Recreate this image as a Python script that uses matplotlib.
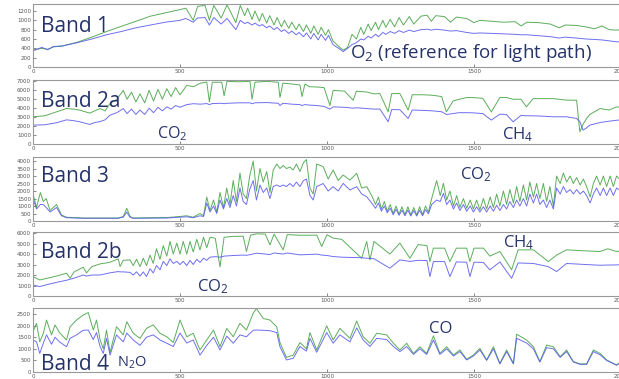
import numpy as np
import matplotlib
matplotlib.use("Agg")
import matplotlib.pyplot as plt

# Spectra (x = spectral pixel, y = signal)
# --------------------------------------------------------------
band1_x = [0, 30, 50, 70, 100, 150, 200, 250, 300, 350, 400, 450, 500, 520, 545, 560, 585, 600, 615, 640,
           660, 690, 705, 720, 730, 745, 755, 770, 780, 795, 805, 820, 830, 845, 855, 870, 880, 895, 905,
           920, 930, 945, 955, 970, 980, 995, 1005, 1020, 1040, 1055, 1070, 1085, 1100, 1115, 1125, 1140,
           1150, 1165, 1175, 1190, 1200, 1215, 1230, 1245, 1260, 1280, 1295, 1320, 1340, 1355, 1370, 1400,
           1420, 1440, 1475, 1500, 1520, 1560, 1600, 1640, 1660, 1680, 1720, 1760, 1790, 1810, 1850, 1880,
           1910, 1935, 1960, 1985, 2000]
band1_green = [360, 400, 380, 430, 450, 530, 640, 760, 870, 980, 1090, 1160, 1230, 1260, 1000, 1300, 1320, 1000,
               1320, 1050, 1330, 950, 1320, 1100, 1260, 1020, 1200, 980, 1150, 940, 1100, 900, 1060, 860, 1000,
               830, 960, 800, 920, 760, 900, 720, 880, 700, 850, 680, 800, 560, 440, 360, 420, 700, 600, 850,
               700, 920, 780, 960, 800, 1000, 850, 1020, 860, 1060, 900, 1080, 920, 1090, 1110, 980, 1100, 1080,
               960, 1070, 1040, 950, 1000, 980, 960, 970, 880, 960, 950, 920, 840, 900, 890, 860, 820, 880,
               800, 790, 800]
band1_blue = [350, 420, 370, 440, 450, 520, 600, 690, 760, 840, 900, 960, 1000, 1040, 960, 1050, 1060, 900,
              1060, 920, 1040, 800, 1000, 930, 960, 900, 940, 880, 910, 840, 880, 800, 850, 760, 800, 720, 770,
              690, 740, 650, 730, 600, 720, 580, 700, 570, 680, 480, 400, 330, 400, 480, 520, 600, 580, 660,
              620, 700, 650, 740, 700, 760, 720, 780, 740, 790, 760, 800, 810, 790, 810, 790, 770, 780, 740,
              720, 730, 720, 710, 700, 690, 690, 670, 650, 620, 640, 620, 600, 590, 580, 560, 540, 540]

band2a_x = [0, 40, 80, 114, 140, 159, 193, 210, 228, 245, 262, 285, 307, 320, 335, 350, 364, 380, 395, 410,
            425, 440, 455, 470, 485, 500, 523, 545, 570, 591, 600, 610, 642, 650, 660, 700, 738, 745, 755,
            794, 834, 840, 850, 880, 908, 915, 925, 940, 964, 990, 1010, 1021, 1060, 1089, 1100, 1135, 1160,
            1180, 1208, 1220, 1248, 1276, 1290, 1330, 1361, 1390, 1406, 1429, 1450, 1475, 1497, 1530, 1559,
            1588, 1610, 1633, 1660, 1678, 1701, 1740, 1769, 1815, 1849, 1860, 1871, 1883, 1894, 1929, 1960,
            1985, 2000]
band2a_green = [3040, 3150, 3590, 3960, 3900, 3780, 3450, 3700, 3960, 3700, 4520, 5000, 6000, 5000, 5800, 4700,
                5600, 4600, 6000, 4800, 6100, 5000, 6180, 5300, 6300, 5500, 6550, 6400, 6800, 6920, 4700, 6900,
                6900, 5400, 7000, 6950, 7000, 5000, 6900, 7000, 6900, 5200, 6800, 6700, 6600, 5300, 6700, 6400,
                6370, 6300, 4300, 6000, 5900, 4890, 5900, 5810, 5600, 5630, 3590, 5630, 5630, 3780, 5500, 5500,
                5440, 5300, 3590, 4810, 5000, 5190, 5190, 5100, 3590, 5190, 5190, 5000, 5000, 4150, 5070, 5070,
                5070, 4900, 4890, 1370, 2200, 2850, 3300, 3960, 3800, 4150, 4100]
band2a_blue = [2110, 2150, 2370, 2700, 2600, 2480, 2190, 2400, 2500, 2700, 3220, 3500, 3960, 3400, 3900, 3300,
               3800, 3300, 4000, 3500, 4100, 3700, 4150, 3900, 4300, 4100, 4400, 4500, 4450, 4520, 4400, 4520,
               4550, 4500, 4550, 4600, 4600, 4500, 4600, 4630, 4550, 4300, 4550, 4450, 4400, 4300, 4400, 4350,
               4300, 4200, 3900, 4150, 4100, 4000, 4050, 3960, 3900, 3900, 2480, 3850, 3830, 2850, 3800, 3750,
               3700, 3600, 3300, 3400, 3500, 3500, 3480, 3400, 2670, 3330, 3300, 2480, 3200, 3150, 3150, 3100,
               3040, 3040, 2850, 2500, 1550, 1800, 2110, 2400, 2550, 2650, 2700]

band3_x = [0, 12, 25, 35, 45, 58, 80, 97, 114, 171, 228, 290, 307, 319, 330, 341, 398, 455, 500, 523, 545,
           568, 580, 591, 602, 614, 625, 636, 648, 659, 670, 681, 692, 704, 715, 726, 737, 749, 760, 772, 783,
           795, 806, 817, 829, 840, 851, 862, 874, 885, 896, 908, 920, 930, 942, 953, 965, 987, 1004, 1021,
           1038, 1055, 1078, 1101, 1118, 1135, 1152,
           1165, 1175, 1185, 1195, 1205, 1215, 1225, 1235, 1245, 1255, 1265, 1275, 1285, 1295, 1305, 1315,
           1325, 1335, 1345, 1356, 1373, 1385, 1396, 1407, 1418, 1430, 1441, 1452, 1464, 1475, 1487, 1498,
           1509, 1520, 1532, 1543, 1555, 1566, 1577, 1588, 1600, 1611, 1622, 1634, 1645, 1656, 1668, 1679,
           1690, 1702, 1713, 1724, 1736, 1747, 1758, 1770, 1781, 1793, 1804, 1815, 1827, 1838, 1849, 1861,
           1872, 1883, 1895, 1906, 1917, 1929, 1940, 1951, 1963, 1974, 1985, 2000]
band3_green = [1800, 900, 1900, 1300, 1500, 700, 1100, 400, 250, 200, 200, 200, 300, 850, 300, 200, 220, 230,
               300, 350, 250, 500, 350, 1600, 700, 1400, 600, 1900, 900, 2200, 1100, 2700, 1300, 3200, 1800,
               1500, 3000, 4000, 2000, 3500, 2600, 3300, 1900, 3400, 3800, 3500, 3700, 3500, 3600, 3400, 3800,
               3300, 3900, 4100, 2200, 1800, 3800, 3630, 2800, 3400, 2700, 3070, 2730, 3180, 2200, 2290, 1700,
               1100, 1600, 800, 1300, 650, 1100, 500, 1000, 450, 950, 420, 950, 400, 900, 400, 950,
               420, 1000, 600, 1500, 2700, 1700, 2510, 1400, 2000, 1000, 1700, 900, 1500, 850, 1400, 800,
               1400, 750, 1500, 800, 1600, 900, 1800, 1000, 2000, 1100, 2100, 1200, 2300, 1300, 2400, 1400,
               2600, 1600, 2500, 1500, 2500, 1300, 2300, 1000, 3000, 2500, 3200, 2600, 3000, 2500, 2900, 2400,
               2800, 2300, 1600, 2500, 3000, 2400, 3000, 2300, 3000, 2300, 3000, 2700]
band3_blue = [1500, 800, 1100, 1100, 900, 600, 900, 350, 220, 180, 180, 180, 260, 600, 250, 180, 190, 200,
              250, 280, 220, 350, 300, 1200, 600, 1000, 500, 1400, 800, 1500, 900, 1700, 1000, 2200, 1300,
              1100, 2100, 2700, 1400, 2400, 1900, 2200, 1500, 2300, 2400, 2300, 2400, 2300, 2500, 2300, 2600,
              2300, 2700, 2800, 1700, 1400, 2300, 2500, 2000, 2290, 2000, 2510, 2070, 2290, 1800, 1620, 1200,
              850, 1200, 650, 1000, 550, 850, 420, 780, 380, 720, 350, 720, 330, 700, 330, 720,
              350, 760, 480, 1100, 1400, 1300, 1850, 1100, 1400, 800, 1200, 700, 1100, 650, 1000, 600,
              950, 600, 950, 600, 1000, 650, 1050, 700, 1100, 800, 1300, 900, 1400, 1000, 1500, 1000,
              1800, 1200, 1800, 1100, 1400, 900, 1400, 800, 2200, 1800, 2300, 1900, 2100, 1800, 2100, 1800,
              2000, 1700, 1200, 1800, 2200, 1700, 2200, 1700, 2200, 1700, 2200, 2000]

band2b_x = [0, 23, 50, 80, 114, 126, 140, 171, 182, 200, 228, 260, 290, 296, 307, 330, 341, 352, 364, 375,
            386, 398, 409, 420, 432, 443, 455, 466, 477, 489, 500, 511, 523, 534, 545, 557, 568, 580, 591, 602,
            620, 636, 650, 681, 715, 726, 740, 760, 790, 806, 820, 851, 865, 908, 965, 982, 1000, 1021, 1050,
            1118, 1135, 1146, 1160, 1214, 1248, 1282, 1310, 1340, 1350, 1362, 1400, 1418, 1440, 1475, 1486,
            1500, 1532, 1554, 1588, 1628, 1650, 1702, 1753, 1781, 1815, 1880, 1929, 1955, 1985, 2000]
band2b_green = [1850, 1530, 1700, 1900, 2170, 1700, 2300, 2740, 2200, 2800, 3060, 3200, 3540, 2810, 3400, 3440,
                2900, 3500, 2800, 3600, 2900, 3900, 3100, 4500, 3500, 4800, 3800, 5200, 4000, 5040, 4000, 5200,
                4000, 5200, 4200, 5400, 4400, 5600, 4600, 5600, 5500, 2770, 5600, 5680, 5700, 4240, 5800, 5920,
                5900, 4880, 5900, 4400, 5850, 5790, 5800, 4720, 5840, 5520, 5400, 3600, 5200, 3440, 5200, 4000,
                5040, 3600, 4900, 4800, 3280, 4560, 4560, 3280, 4560, 4560, 3280, 4560, 4560, 3800, 4240, 2500,
                4400, 4400, 3280, 3900, 4400, 4300, 4240, 4500, 4240, 4300]
band2b_blue = [1050, 900, 1100, 1300, 1500, 1600, 1700, 2000, 1900, 2000, 2000, 2200, 2330, 2300, 2300, 2250,
               2000, 2300, 1900, 2300, 1850, 2600, 2200, 2900, 2500, 3300, 2900, 3540, 3100, 3300, 3000, 3300,
               2900, 3400, 3000, 3500, 3200, 3600, 3400, 3700, 3750, 3700, 3800, 3860, 3900, 3880, 3950, 4080,
               4000, 3950, 4100, 4000, 4100, 3920, 3990, 3900, 3860, 3760, 3700, 3650, 3600, 3580, 3550, 2650,
               3440, 3300, 3400, 3380, 1850, 3280, 3280, 1850, 3250, 3220, 1850, 3220, 3200, 2490, 3250, 1690,
               3150, 3100, 2800, 2330, 3100, 3000, 2930, 2950, 2960, 3000]

band4_x = [0, 12, 23, 35, 46, 63, 75, 90, 114, 126, 148, 171, 188, 205, 216, 228, 239, 250, 262, 284, 307,
           319, 341, 364, 386, 409, 432, 455, 477, 500, 523, 545, 568, 591, 614, 636, 659, 681, 704, 726, 749,
           760, 783, 806, 829, 840, 862, 885, 908, 930, 942, 965, 999, 1021, 1044, 1078, 1101, 1123, 1146,
           1169, 1203, 1226, 1248, 1271, 1294, 1316, 1339, 1362, 1384, 1407, 1430, 1452, 1475, 1498, 1520,
           1543, 1566, 1588, 1611, 1634, 1645, 1679, 1702, 1724, 1747, 1770, 1793, 1815, 1838, 1861, 1883,
           1906, 1929, 1951, 1985, 2000]
band4_green = [1740, 2100, 1300, 1660, 2240, 1600, 2030, 1700, 1380, 1950, 2240, 2460, 2560, 1810, 2240, 1400,
               1000, 1810, 840, 1950, 1600, 2170, 1670, 1450, 1880, 2030, 1670, 1520, 1270, 2240, 1520, 1670,
               950, 1380, 1810, 1090, 1880, 1520, 2100, 1810, 2530, 2740, 2310, 2240, 1950, 1270, 630, 730,
               1270, 1000, 1700, 950, 1990, 1380, 1880, 1450, 2200, 1520, 1240, 1670, 1600, 1240, 950, 1240,
               800, 1090, 800, 1560, 800, 1090, 730, 950, 550, 730, 1020, 520, 1090, 370, 950, 370, 1630, 1380,
               1090, 450, 1160, 1090, 660, 950, 450, 350, 350, 950, 800, 520, 300, 450]
band4_blue = [1380, 1300, 800, 1240, 1600, 1200, 1500, 1300, 1090, 1450, 1600, 1800, 1810, 1400, 1700, 1100,
              800, 1450, 730, 1600, 1300, 1680, 1380, 1150, 1500, 1600, 1380, 1240, 1100, 1680, 1250, 1380,
              730, 1150, 1500, 950, 1550, 1240, 1600, 1520, 1800, 1810, 1800, 1780, 1700, 1090, 520, 590, 1100,
              900, 1450, 850, 1700, 1240, 1600, 1300, 1900, 1380, 1100, 1450, 1400, 1100, 880, 1100, 760, 1000,
              760, 1380, 760, 1000, 690, 880, 520, 690, 950, 500, 1000, 350, 880, 350, 1450, 1250, 1000, 430,
              1050, 1000, 630, 880, 430, 330, 330, 880, 740, 500, 290, 420]

x_ticks = [0, 500, 1000, 1500, 2000]

# name, x, green, blue, y-limit, y-ticks
panels = [
    ("Band 1", band1_x, band1_green, band1_blue, 1350, np.arange(0, 1201, 200)),
    ("Band 2a", band2a_x, band2a_green, band2a_blue, 7150, np.arange(0, 7001, 1000)),
    ("Band 3", band3_x, band3_green, band3_blue, 4270, np.arange(0, 4001, 500)),
    ("Band 2b", band2b_x, band2b_green, band2b_blue, 6100, np.arange(0, 6001, 1000)),
    ("Band 4", band4_x, band4_green, band4_blue, 2760, np.arange(0, 2501, 500)),
]

# axes top / bottom in pixels of the 619x379 picture
panel_px = [(4, 67), (80, 144), (157, 221), (232, 296), (308, 372)]
W, H = 619, 379

plt.rcParams['mathtext.default'] = 'regular'
fig = plt.figure(figsize=(W / 100, H / 100), dpi=100)
navy = '#26336b'

for (name, xs, g, b, ytop, yt), (top, bot) in zip(panels, panel_px):
    ax = fig.add_axes([33 / W, 1 - bot / H, 588 / W, (bot - top) / H])
    ax.plot(xs, g, color='#3f9f3f', lw=0.7, alpha=0.85)
    ax.plot(xs, b, color='#5555ee', lw=0.7, alpha=0.85)
    ax.set_xlim(0, 2000)
    ax.set_ylim(0, ytop)
    ax.set_xticks(x_ticks)
    ax.set_yticks(yt)
    ax.tick_params(direction='in', length=2, width=0.5, labelsize=4, colors='#555555', pad=1.5)
    for s in ax.spines.values():
        s.set_color('#999999')
        s.set_linewidth(0.8)

# Band names and molecule labels, (text, x px, baseline y px, size)
labels = [
    ("Band 1", 41, 32, 15), ("Band 2a", 41, 107, 15), ("Band 3", 41, 182, 15),
    ("Band 2b", 41, 258, 15), ("Band 4", 41, 370, 15),
    ("O$_2$ (reference for light path)", 350, 58, 13.5),
    ("CO$_2$", 157, 138, 11.5), ("CH$_4$", 502, 139, 12),
    ("CO$_2$", 460, 179, 12), ("CO$_2$", 197, 291, 12), ("CH$_4$", 503, 247, 12),
    ("N$_2$O", 117, 367, 10.5), ("CO", 429, 333, 12),
]
for txt, x, y, size in labels:
    fig.text(x / W, 1 - y / H, txt, fontsize=size, color=navy, family='Open Sans',
             ha='left', va='baseline')

fig.savefig("out.png", dpi=100)
